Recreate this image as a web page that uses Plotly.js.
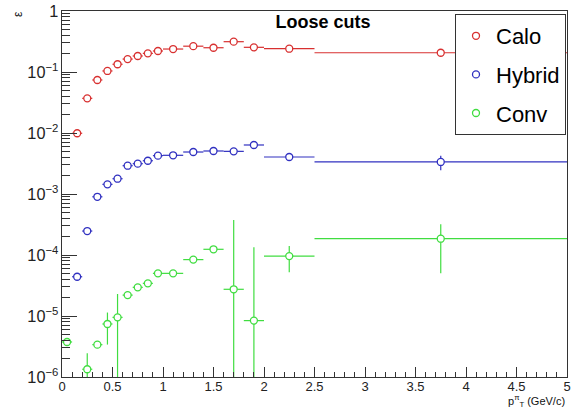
<!DOCTYPE html>
<html>
<head>
<meta charset="utf-8">
<script src="https://cdn.plot.ly/plotly-3.0.1.min.js"></script>
<style>
  html, body { margin: 0; padding: 0; background: #fff; }
  #plot { width: 572px; height: 409px; }
</style>
</head>
<body>
<div id="plot"></div>
<script>
// pT bin centres and half widths (GeV/c)
const ptCenter = [0.05, 0.15, 0.25, 0.35, 0.45, 0.55, 0.65, 0.75, 0.85, 0.95,
                  1.1, 1.3, 1.5, 1.7, 1.9, 2.25, 3.75];
const ptHalfWidth = [0.05, 0.05, 0.05, 0.05, 0.05, 0.05, 0.05, 0.05, 0.05, 0.05,
                     0.1, 0.1, 0.1, 0.1, 0.1, 0.25, 1.25];

// efficiency per reconstruction method, with statistical errors
const caloEff = [null, 0.0099, 0.037, 0.074, 0.104, 0.134, 0.163, 0.183, 0.202, 0.221,
                 0.238, 0.265, 0.250, 0.314, 0.254, 0.241, 0.207];
const caloErr = [null, 0.0004, 0.001, 0.0015, 0.002, 0.002, 0.002, 0.002, 0.002, 0.002,
                 0.002, 0.003, 0.003, 0.004, 0.005, 0.004, 0.004];

const hybridEff = [null, 4.4e-5, 2.47e-4, 9.0e-4, 1.44e-3, 1.78e-3, 2.91e-3, 3.14e-3, 3.51e-3, 4.25e-3,
                   4.31e-3, 4.88e-3, 5.07e-3, 5.0e-3, 6.36e-3, 4.04e-3, 3.35e-3];
const hybridErr = [null, 4e-6, 1.5e-5, 4e-5, 6e-5, 7e-5, 1e-4, 1.2e-4, 1.4e-4, 1.6e-4,
                   1.6e-4, 2e-4, 2.5e-4, 3e-4, 4e-4, 3e-4, 9e-4];

const convEff = [3.75e-6, null, 1.34e-6, 3.39e-6, 7.4e-6, 9.5e-6, 2.2e-5, 2.95e-5, 3.43e-5, 5.0e-5,
                 5.0e-5, 8.4e-5, 1.24e-4, 2.74e-5, 8.4e-6, 9.6e-5, 1.85e-4];
const convErr = [3e-7, null, 1.1e-6, 4e-7, 4e-6, 1.35e-5, 1.5e-6, 2e-6, 2e-6, 3e-6,
                 3e-6, 5e-6, 8e-6, 3.48e-4, 1.26e-4, 4.4e-5, 1.35e-4];

const seriesNames = ['Calo', 'Hybrid', 'Conv'];
const seriesColors = ['#d83030', '#3030c0', '#40dd40'];

function histTrace(name, color, eff, err, group) {
  return {
    type: 'scatter',
    mode: 'markers',
    name: name,
    legendgroup: group,
    x: ptCenter,
    y: eff,
    marker: { symbol: 'circle', size: 7, color: '#ffffff', line: { color: color, width: 1.3 } },
    error_x: { type: 'data', array: ptHalfWidth, width: 0, thickness: 1.2, color: color },
    error_y: { type: 'data', array: err, width: 0, thickness: 1.2, color: color },
    cliponaxis: true
  };
}

const traces = [
  histTrace(seriesNames[0], seriesColors[0], caloEff, caloErr, 'g1'),
  histTrace(seriesNames[1], seriesColors[1], hybridEff, hybridErr, 'g2'),
  histTrace(seriesNames[2], seriesColors[2], convEff, convErr, 'g3')
];

const font = 'Liberation Sans, Arial, Helvetica, sans-serif';

const layout = {
  width: 572,
  height: 409,
  margin: { l: 62, r: 5, t: 11, b: 32 },
  paper_bgcolor: '#ffffff',
  plot_bgcolor: '#ffffff',
  font: { family: font, size: 13, color: '#111' },
  showlegend: true,
  title: {
    text: '<b>Loose cuts</b>',
    font: { family: font, size: 18, color: '#000' },
    x: (323 - 62) / 505, xanchor: 'center', xref: 'paper',
    y: 1 - 22 / 409, yanchor: 'middle'
  },
  xaxis: {
    range: [0, 5],
    dtick: 0.5,
    ticks: 'inside',
    ticklen: 10,
    tickcolor: '#333',
    ticklabelstandoff: -3,
    showline: true,
    mirror: true,
    linecolor: '#333',
    linewidth: 1,
    showgrid: false,
    zeroline: false,
    tickfont: { size: 13, color: '#222' },
    minor: { dtick: 0.1, ticks: 'inside', ticklen: 5, tickcolor: '#333', showgrid: false }
  },
  yaxis: {
    type: 'log',
    range: [-6, 0],
    dtick: 1,
    exponentformat: 'power',
    ticks: 'inside',
    ticklen: 15,
    tickcolor: '#333',
    showline: true,
    mirror: true,
    linecolor: '#333',
    linewidth: 1,
    showgrid: false,
    zeroline: false,
    tickfont: { size: 13, color: '#222' },
    minor: { dtick: 'D1', ticks: 'inside', ticklen: 8, tickcolor: '#333', showgrid: false }
  },
  legend: {
    x: (455 - 62) / 505,
    y: (377 - 14) / 366,
    xanchor: 'left',
    yanchor: 'top',
    bgcolor: '#ffffff',
    bordercolor: '#333',
    borderwidth: 1,
    font: { family: font, size: 22, color: '#000' },
    tracegroupgap: 7
  },
  annotations: [
    {
      text: 'ε', xref: 'paper', yref: 'paper',
      x: (18 - 62) / 505, y: (377 - 14) / 366,
      xanchor: 'center', yanchor: 'middle', textangle: -90,
      showarrow: false, font: { family: font, size: 12, color: '#111' }
    },
    {
      text: 'p<sup>π</sup><sub>T</sub> (GeV/c)', xref: 'paper', yref: 'paper',
      x: 1, y: (377 - 401) / 366,
      xanchor: 'right', yanchor: 'middle',
      showarrow: false, font: { family: font, size: 11, color: '#111' }
    }
  ]
};

Plotly.newPlot('plot', traces, layout, { displayModeBar: false, staticPlot: true });
</script>
</body>
</html>
